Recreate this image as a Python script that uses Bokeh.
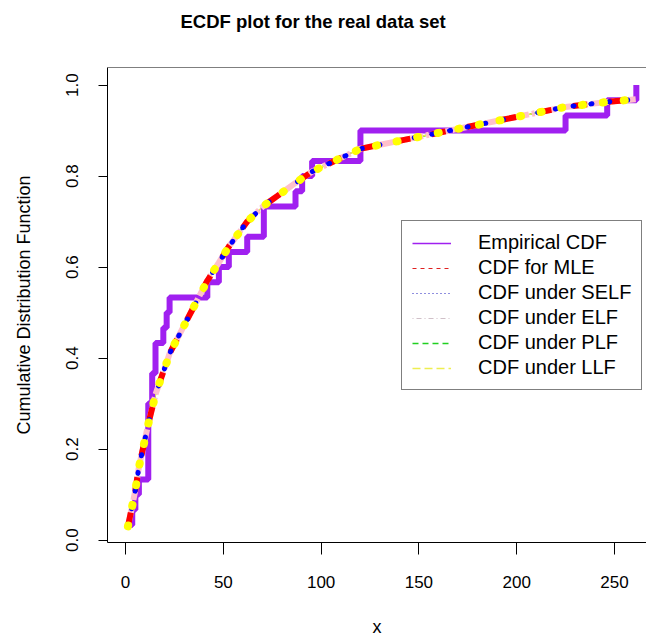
import numpy as np
from bokeh.plotting import figure
from bokeh.models import Range1d, Span, Legend, LegendItem, FixedTicker, NumeralTickFormatter, Title
from bokeh.embed import file_html
from bokeh.resources import INLINE

# sorted observations of the real data set (read from the ECDF steps)
data_sorted = [1.2, 3.4, 5.0, 6.8, 11.6, 11.6, 11.6, 11.6, 11.6, 13.6,
               13.6, 15.3, 15.3, 19.3, 21.0, 22.5, 41.8, 47.7, 52.8, 62.2,
               70.7, 70.7, 86.9, 90.3, 95.4, 120.1, 120.1, 225.0, 246.3, 261.2]
n_obs = len(data_sorted)
ecdf_vals = np.arange(1, n_obs + 1) / n_obs

# fitted CDF values at the sorted observations
cdf_mle = [0.030, 0.075, 0.110, 0.160, 0.255, 0.255, 0.255, 0.255, 0.255, 0.290,
           0.290, 0.320, 0.320, 0.370, 0.390, 0.410, 0.570, 0.610, 0.645, 0.700,
           0.735, 0.735, 0.785, 0.795, 0.810, 0.860, 0.860, 0.952, 0.963, 0.969]
cdf_self = [0.030, 0.075, 0.110, 0.160, 0.255, 0.255, 0.255, 0.255, 0.255, 0.290,
            0.290, 0.320, 0.320, 0.370, 0.390, 0.410, 0.570, 0.610, 0.645, 0.700,
            0.735, 0.735, 0.785, 0.795, 0.810, 0.860, 0.860, 0.952, 0.963, 0.969]
cdf_elf = [0.030, 0.075, 0.110, 0.160, 0.255, 0.255, 0.255, 0.255, 0.255, 0.290,
           0.290, 0.320, 0.320, 0.370, 0.390, 0.410, 0.570, 0.610, 0.645, 0.700,
           0.735, 0.735, 0.785, 0.795, 0.810, 0.860, 0.860, 0.952, 0.963, 0.969]
cdf_plf = [0.030, 0.075, 0.110, 0.160, 0.255, 0.255, 0.255, 0.255, 0.255, 0.290,
           0.290, 0.320, 0.320, 0.370, 0.390, 0.410, 0.570, 0.610, 0.645, 0.700,
           0.735, 0.735, 0.785, 0.795, 0.810, 0.860, 0.860, 0.952, 0.963, 0.969]
cdf_llf = [0.030, 0.075, 0.110, 0.160, 0.255, 0.255, 0.255, 0.255, 0.255, 0.290,
           0.290, 0.320, 0.320, 0.370, 0.390, 0.410, 0.570, 0.610, 0.645, 0.700,
           0.735, 0.735, 0.785, 0.795, 0.810, 0.860, 0.860, 0.952, 0.963, 0.969]

x_ticks = [0, 50, 100, 150, 200, 250]
y_ticks = [0.0, 0.2, 0.4, 0.6, 0.8, 1.0]
legend_labels = ["Empirical CDF", "CDF for MLE", "CDF under SELF",
                 "CDF under ELF", "CDF under PLF", "CDF under LLF"]
title_text = "ECDF plot for the real data set"

FONT = "Liberation Sans"

y_lo = 1 / n_obs - 0.04 * (1 - 1 / n_obs)
y_hi = 1 + 0.04 * (1 - 1 / n_obs)

p = figure(width=646, height=640, output_backend="svg", toolbar_location=None,
           title=None,
           x_range=Range1d(-9.25, 266.4), y_range=Range1d(y_lo, y_hi),
           min_border_left=107, min_border_right=0, min_border_top=67,
           min_border_bottom=98)
p.outline_line_color = None
p.grid.visible = False
p.background_fill_color = "white"
p.border_fill_color = "white"

# spacing panel between frame and title, then the title above it
p.add_layout(Title(text=" ", text_font=FONT, text_font_size="10px", standoff=11), "above")
p.add_layout(Title(text=title_text, text_font=FONT, text_font_size="18.5px",
                   text_font_style="bold", text_color="black", align="left",
                   offset=73, vertical_align="top", standoff=20), "above")

# axes
for ax in (p.xaxis[0], p.yaxis[0]):
    ax.axis_line_color = "black"
    ax.major_tick_line_color = "black"
    ax.minor_tick_line_color = None
    ax.major_tick_in = 0
    ax.major_label_text_font = FONT
    ax.major_label_text_font_size = "17px"
    ax.major_label_text_color = "black"
    ax.axis_label_text_font = FONT
    ax.axis_label_text_font_size = "18px"
    ax.axis_label_text_font_style = "normal"
    ax.axis_label_text_color = "black"

p.xaxis.ticker = FixedTicker(ticks=x_ticks)
p.xaxis.major_tick_out = 12
p.xaxis.major_label_standoff = 21
p.xaxis.axis_label = "x"
p.xaxis.axis_label_standoff = 26

p.yaxis.ticker = FixedTicker(ticks=y_ticks)
p.yaxis.formatter = NumeralTickFormatter(format="0.0")
p.yaxis.major_tick_out = 9
p.yaxis.major_label_standoff = 20
p.yaxis.major_label_orientation = "vertical"
p.yaxis.axis_label = "Cumulative Distribution Function"
p.yaxis.axis_label_standoff = 30

p.add_layout(Span(location=y_hi, dimension="width", line_color="black", line_width=1))

# thin legend samples (drawn first, hidden under the thick curves)
lg_emp = p.step(data_sorted, ecdf_vals, mode="after", line_color="#A020F0", line_width=1.5)
lg_mle = p.line(data_sorted, cdf_mle, line_color="#E02020", line_width=1.2, line_dash="4 4")
lg_self = p.line(data_sorted, cdf_self, line_color="#2020C0", line_width=1.2, line_dash="1 3")
lg_elf = p.line(data_sorted, cdf_elf, line_color="#D0C0C8", line_width=1.2, line_dash="1 3 5 3")
lg_plf = p.line(data_sorted, cdf_plf, line_color="#20D020", line_width=1.5, line_dash="6 4")
lg_llf = p.line(data_sorted, cdf_llf, line_color="#EEEE50", line_width=1.5, line_dash="8 4")

# empirical CDF
p.step(data_sorted, ecdf_vals, mode="after", line_color="#A020F0", line_width=6)

# fitted CDFs
p.line(data_sorted, cdf_plf, line_color="#00FF00", line_width=5, line_dash="14 22")
p.line(data_sorted, cdf_elf, line_color="#FFC0CB", line_width=6, line_dash="18 3 3 3")
p.line(data_sorted, cdf_mle, line_color="#FF0000", line_width=6, line_dash="14 22")
p.line(data_sorted, cdf_self, line_color="#0000FF", line_width=5, line_dash="1 17",
       line_cap="round")
p.line(data_sorted, cdf_llf, line_color="#FFFF00", line_width=8, line_dash="1 20",
       line_cap="round")

legend = Legend(items=[LegendItem(label=lab, renderers=[r]) for lab, r in zip(
    legend_labels, [lg_emp, lg_mle, lg_self, lg_elf, lg_plf, lg_llf])],
    location=(294, 152))
legend.border_line_color = "black"
legend.border_line_width = 1
legend.background_fill_color = "white"
legend.background_fill_alpha = 1
legend.padding = 10
legend.spacing = 2
legend.margin = 0
legend.glyph_width = 39
legend.glyph_height = 20
legend.label_standoff = 27
legend.label_width = 144
legend.label_text_font = FONT
legend.label_text_font_size = "20px"
legend.label_text_color = "black"
p.add_layout(legend)

open("out.html", "w").write(file_html(p, INLINE))
